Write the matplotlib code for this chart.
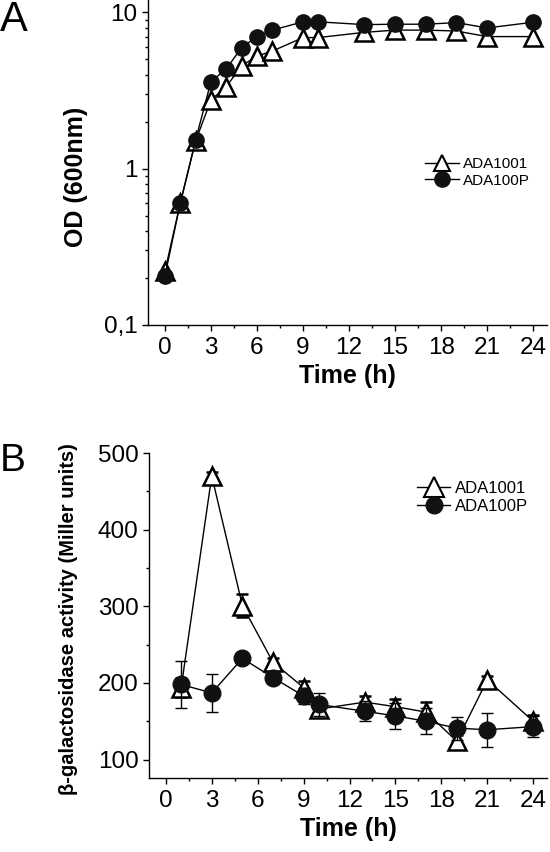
import matplotlib
matplotlib.use("Agg")
import matplotlib.pyplot as plt
from matplotlib.lines import Line2D
from matplotlib import font_manager
from matplotlib.ticker import FixedLocator, NullFormatter, FixedFormatter, LogLocator, MultipleLocator
import numpy as np

plt.rcParams['font.family'] = ['Liberation Sans', 'DejaVu Sans']

# ---- Panel A data: OD600 growth curves ----
time_a = [0, 1, 2, 3, 4, 5, 6, 7, 9, 10, 13, 15, 17, 19, 21, 24]
od_ada1001 = [0.22, 0.60, 1.50, 2.75, 3.35, 4.55, 5.25, 5.65, 6.9, 6.9, 7.45, 7.7, 7.7, 7.6, 7.0, 7.0]
od_ada100p = [0.205, 0.60, 1.52, 3.6, 4.35, 5.95, 7.0, 7.7, 8.7, 8.7, 8.35, 8.4, 8.4, 8.6, 7.95, 8.65]

# ---- Panel B data: beta-galactosidase activity ----
time_b = [1, 3, 5, 7, 9, 10, 13, 15, 17, 19, 21, 24]
bgal_ada1001 = [194, 470, 301, 227, 194, 166, 175, 169, 162, 124, 204, 150]
err_ada1001 = [12, 5, 15, 6, 8, 8, 8, 10, 13, 8, 5, 8]
bgal_ada100p = [198, 187, 232, 207, 183, 172, 163, 157, 150, 141, 139, 143]
err_ada100p = [31, 25, 6, 7, 10, 15, 13, 17, 17, 15, 22, 14]

xticks = [0, 3, 6, 9, 12, 15, 18, 21, 24]
series_names = ['ADA1001', 'ADA100P']

# condensed font for the long y label if available
narrow_ok = any('Narrow' in f.name for f in font_manager.fontManager.ttflist
                if f.name.startswith('Liberation Sans'))
if narrow_ok:
    blabel_family = ['Liberation Sans Narrow', 'Liberation Sans']
    blabel_size = 17
else:
    blabel_family = ['Liberation Sans', 'DejaVu Sans']
    blabel_size = 14.5

fig = plt.figure(figsize=(5.5, 8.52), dpi=100)
W, H = 550, 852

def px_axes(l, t, r, b):
    return fig.add_axes([l / W, 1 - b / H, (r - l) / W, (b - t) / H])

axA = px_axes(148, 0, 547, 325)
axB = px_axes(149, 453, 547, 778)

tri_kw = dict(marker='^', markerfacecolor='white', markeredgecolor='black', color='black')
cir_kw = dict(marker='o', markerfacecolor='#111111', markeredgecolor='#111111', color='black')

# Panel A
axA.plot(time_a, od_ada1001, lw=1.0, ms=13, mew=1.8, zorder=3, **tri_kw)
axA.plot(time_a, od_ada100p, lw=1.0, ms=11, mew=1.0, zorder=4, **cir_kw)
axA.set_yscale('log')
axA.set_ylim(0.1, 12)
axA.set_xlim(-1.1, 24.9)
axA.yaxis.set_major_locator(FixedLocator([0.1, 1, 10]))
axA.yaxis.set_major_formatter(FixedFormatter(['0,1', '1', '10']))
axA.yaxis.set_minor_locator(LogLocator(base=10, subs=np.arange(2, 10)))
axA.yaxis.set_minor_formatter(NullFormatter())

# Panel B
axB.errorbar(time_b, bgal_ada1001, yerr=err_ada1001, lw=1.0, ms=13, mew=1.8,
             capsize=4.5, elinewidth=1.0, capthick=1.0, ecolor='black', zorder=3, **tri_kw)
axB.errorbar(time_b, bgal_ada100p, yerr=err_ada100p, lw=1.0, ms=12, mew=1.0,
             capsize=4.5, elinewidth=1.0, capthick=1.0, ecolor='black', zorder=4, **cir_kw)
axB.set_ylim(76, 500)
axB.set_xlim(-1.1, 24.9)
axB.yaxis.set_major_locator(FixedLocator([100, 200, 300, 400, 500]))
axB.yaxis.set_minor_locator(FixedLocator([150, 250, 350, 450]))

for ax in (axA, axB):
    ax.spines['top'].set_visible(False)
    ax.spines['right'].set_visible(False)
    ax.spines['left'].set_linewidth(1.0)
    ax.spines['bottom'].set_linewidth(1.0)
    ax.set_xticks(xticks)
    ax.xaxis.set_minor_locator(MultipleLocator(1.5))
    ax.tick_params(axis='both', which='major', direction='out', length=4.5, width=1.0,
                   labelsize=17.5, pad=3)
    ax.tick_params(axis='both', which='minor', direction='out', length=2.5, width=1.0)
    ax.tick_params(axis='x', which='major', pad=4)
    ax.set_xlabel('Time (h)', fontsize=18, fontweight='bold', labelpad=4)

axA.set_ylabel('OD (600nm)', fontsize=18, fontweight='bold')
axA.yaxis.set_label_coords(-0.150, 0.455)
axB.set_ylabel('β-galactosidase activity (Miller units)', fontsize=blabel_size,
               fontweight='bold', family=blabel_family)
axB.yaxis.set_label_coords(-0.178, 0.49)

def make_handles(tri_ms, cir_ms):
    h1 = Line2D([], [], lw=1.0, ms=tri_ms, mew=1.5, **tri_kw)
    h2 = Line2D([], [], lw=1.0, ms=cir_ms, mew=1.0, **cir_kw)
    return [h1, h2]

axA.legend(make_handles(11, 11), series_names, loc='center left',
           bbox_to_anchor=(0.694, 0.469), frameon=False, fontsize=11,
           handlelength=2.2, handletextpad=0.3, labelspacing=0.15,
           borderpad=0, borderaxespad=0)
axB.legend(make_handles(14, 12), series_names, loc='center left',
           bbox_to_anchor=(0.673, 0.863), frameon=False, fontsize=12,
           handlelength=2.0, handletextpad=0.3, labelspacing=0.2,
           borderpad=0, borderaxespad=0)

fig.text(0.0, 1.0, 'A', fontsize=30, ha='left', va='top')
fig.text(0.0, 1 - 443 / H, 'B', fontsize=28, ha='left', va='top')

fig.savefig('out.png', dpi=100)
